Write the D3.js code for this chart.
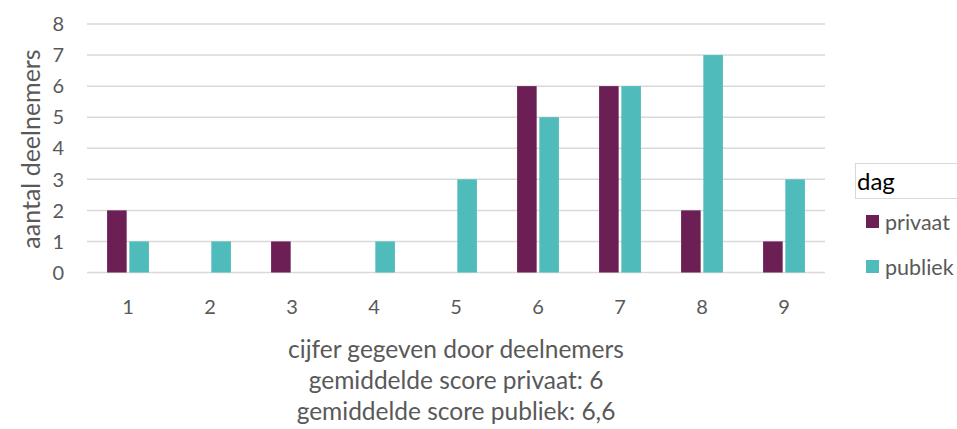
<!DOCTYPE html>
<html>
<head>
<meta charset="utf-8">
<script src="https://cdn.jsdelivr.net/npm/d3@7"></script>
<style>
  html, body { margin: 0; padding: 0; background: #fff; overflow: hidden; }
  svg { display: block; font-family: Lato, "Open Sans", sans-serif; }
</style>
</head>
<body>
<div id="chart"></div>
<script>
// 数据
const categories = ['1', '2', '3', '4', '5', '6', '7', '8', '9'];
const seriesNames = ['privaat', 'publiek'];
const privaat = [2, 0, 1, 0, 0, 6, 6, 2, 1];
const publiek = [1, 1, 0, 1, 3, 5, 6, 7, 3];
const yTicks = [0, 1, 2, 3, 4, 5, 6, 7, 8];
const xTitleLines = [
  'cijfer gegeven door deelnemers',
  'gemiddelde score privaat: 6',
  'gemiddelde score publiek: 6,6'
];
const yTitle = 'aantal deelnemers';
const legendTitle = 'dag';

const colors = ['#6b1f55', '#4fbcbb'];
const width = 957, height = 429;
const plot = { left: 87, right: 825, top: 24, bottom: 272.5 };

const svg = d3.select('#chart').append('svg')
  .attr('width', width)
  .attr('height', height);

// 比例尺
const x0 = d3.scaleBand()
  .domain(categories)
  .range([plot.left, plot.right])
  .paddingInner(0.49)
  .paddingOuter(0.245);

const x1 = d3.scaleBand()
  .domain(seriesNames)
  .range([0, x0.bandwidth()])
  .paddingInner(0.12);

const y = d3.scaleLinear()
  .domain([0, 8])
  .range([plot.bottom, plot.top]);

// 网格线
svg.append('g')
  .selectAll('line')
  .data(yTicks)
  .join('line')
  .attr('x1', plot.left)
  .attr('x2', plot.right)
  .attr('y1', d => y(d))
  .attr('y2', d => y(d))
  .attr('stroke', '#d9d9d9')
  .attr('stroke-width', 1.5);

// Y 轴刻度
svg.append('g')
  .selectAll('text')
  .data(yTicks)
  .join('text')
  .attr('x', 64)
  .attr('y', d => y(d))
  .attr('dy', '0.36em')
  .attr('text-anchor', 'end')
  .style('font-size', '20px')
  .style('fill', '#595959')
  .text(d => d);

// X 轴刻度
svg.append('g')
  .selectAll('text')
  .data(categories)
  .join('text')
  .attr('x', d => x0(d) + x0.bandwidth() / 2)
  .attr('y', 307)
  .attr('dy', '0.36em')
  .attr('text-anchor', 'middle')
  .style('font-size', '20px')
  .style('fill', '#595959')
  .text(d => d);

// 柱子
const data = categories.map((c, i) => ({ cat: c, values: [privaat[i], publiek[i]] }));
const groups = svg.append('g')
  .selectAll('g')
  .data(data)
  .join('g')
  .attr('transform', d => `translate(${x0(d.cat)},0)`);

groups.selectAll('rect')
  .data(d => d.values.map((v, j) => ({ key: seriesNames[j], v, j })).filter(e => e.v > 0))
  .join('rect')
  .attr('x', d => x1(d.key))
  .attr('width', x1.bandwidth())
  .attr('y', d => y(d.v))
  .attr('height', d => y(0) - y(d.v))
  .attr('fill', d => colors[d.j]);

// Y 轴标题
svg.append('text')
  .attr('transform', `translate(31,149) rotate(-90)`)
  .attr('text-anchor', 'middle')
  .attr('dy', '0.36em')
  .style('font-size', '25px')
  .style('fill', '#595959')
  .text(yTitle);

// X 轴标题
svg.append('g')
  .selectAll('text')
  .data(xTitleLines)
  .join('text')
  .attr('x', 456)
  .attr('y', (d, i) => 349 + i * 31)
  .attr('dy', '0.36em')
  .attr('text-anchor', 'middle')
  .style('font-size', '24.5px')
  .style('fill', '#595959')
  .text(d => d);

// 图例
const legend = svg.append('g');
legend.append('rect')
  .attr('x', 855.5)
  .attr('y', 163.5)
  .attr('width', 110)
  .attr('height', 35)
  .attr('fill', 'none')
  .attr('stroke', '#d9d9d9')
  .attr('stroke-width', 1);
legend.append('text')
  .attr('x', 857)
  .attr('y', 181)
  .attr('dy', '0.36em')
  .style('font-size', '24px')
  .style('fill', '#000')
  .text(legendTitle);

const legendItems = legend.selectAll('.item')
  .data(seriesNames)
  .join('g')
  .attr('class', 'item')
  .attr('transform', (d, i) => `translate(866,${222 + i * 45})`);
legendItems.append('rect')
  .attr('x', 0)
  .attr('y', -7)
  .attr('width', 13)
  .attr('height', 13)
  .attr('fill', (d, i) => colors[i]);
legendItems.append('text')
  .attr('x', 19)
  .attr('y', 0)
  .attr('dy', '0.36em')
  .style('font-size', '21.5px')
  .style('fill', '#595959')
  .text(d => d);
</script>
</body>
</html>
